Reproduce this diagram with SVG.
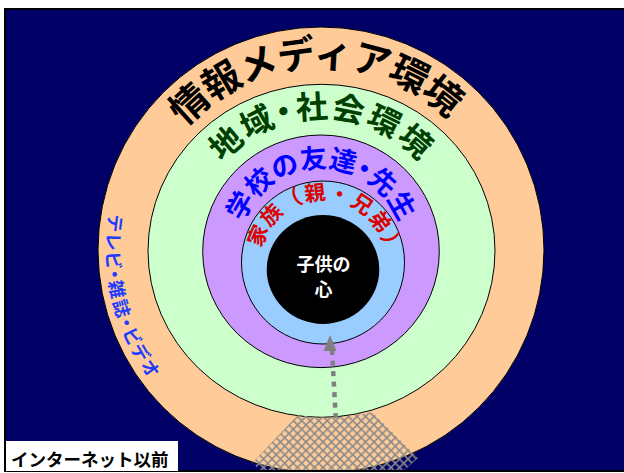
<svg xmlns="http://www.w3.org/2000/svg" xmlns:xlink="http://www.w3.org/1999/xlink" width="624" height="473" viewBox="0 0 624 473">
<style>
.t{font-family:"Noto Sans CJK JP","Noto Sans CJK SC",sans-serif;font-weight:700}
.p{font-feature-settings:"palt" 1}
.ring{stroke:#000;stroke-width:1}
</style>
<defs>
<clipPath id="frame"><rect x="6" y="10" width="620" height="460"/></clipPath>
<pattern id="hatch" patternUnits="userSpaceOnUse" width="8.5" height="8.5">
<path d="M-1,-1 L9.5,9.5 M9.5,-1 L-1,9.5" stroke="#8a8a8a" stroke-width="1.6" fill="none"/>
</pattern>
<path id="p1" d="M140.8,218.2 A183,183 0 0 1 501.2,218.2"/>
<path id="p2" d="M191,227.8 A132.5,132.5 0 0 1 452,227.8"/>
<path id="p3" d="M238.3,244 A83,83 0 0 1 403.7,244"/>
<path id="p4" d="M260.9,273.5 A63,63 0 1 1 385.1,273.5"/>
<path id="p5" d="M120.7,173.2 A214.5,214.5 0 0 0 180.3,411.9"/>
</defs>
<rect x="5" y="9" width="625" height="462" fill="#000066" stroke="#000" stroke-width="2"/>
<g clip-path="url(#frame)">
<g id="media"><circle class="ring" cx="321" cy="250" r="223" fill="#FFCC99"/></g>
<g id="community"><ellipse class="ring" cx="321.5" cy="250.8" rx="173.5" ry="166.5" fill="#CCFFCC"/></g>
<g id="school"><ellipse class="ring" cx="321" cy="251.3" rx="118.3" ry="116.3" fill="#CC99FF"/></g>
<g id="family"><circle class="ring" cx="323" cy="262.5" r="81.5" fill="#99CCFF"/></g>
<g id="heart"><ellipse cx="323" cy="269.5" rx="56.3" ry="54.5" fill="#000"/>
<text class="t" x="323.5" y="271" font-size="18" fill="#fff" text-anchor="middle">子供の</text>
<text class="t" x="323.5" y="296" font-size="18" fill="#fff" text-anchor="middle">心</text></g>
<g id="hatch-area"><path d="M298,415 Q335,421 372,412 L418,458 L402,472 L262,472 L252,463 Z" fill="url(#hatch)"/></g>
</g>
<g id="labels">
<text class="t" font-size="38" letter-spacing="-1" fill="#000" transform="rotate(-2 321 250)"><textPath xlink:href="#p1" href="#p1" startOffset="50%" text-anchor="middle">情報メディア環境</textPath></text>
<text class="t p" font-size="32" letter-spacing="2.3" fill="#004000"><textPath xlink:href="#p2" href="#p2" startOffset="50%" text-anchor="middle">地域・社会環境</textPath></text>
<text class="t p" font-size="27" fill="#0000FF"><textPath xlink:href="#p3" href="#p3" startOffset="50%" text-anchor="middle">学校の友達・先生</textPath></text>
<text class="t" font-size="21" letter-spacing="1.2" fill="#DD0000" transform="rotate(4 323 262.5)"><textPath xlink:href="#p4" href="#p4" startOffset="50%" text-anchor="middle">家族（親・兄弟）</textPath></text>
<text class="t p" font-size="18" letter-spacing="2.2" fill="#1E3CFF"><textPath xlink:href="#p5" href="#p5" startOffset="50%" text-anchor="middle">テレビ・雑誌・ビデオ</textPath></text>
</g>
<g id="connectors">
<line x1="335.8" y1="418" x2="332" y2="350" stroke="#808080" stroke-width="4.5" stroke-dasharray="5 5.5"/>
<polygon points="330,335 323.5,351 336.5,351" fill="#808080"/>
</g>
<g id="era-label">
<rect x="6" y="441" width="172" height="30" fill="#fff"/>
<text class="t" x="11" y="466" font-size="17.5" fill="#000">インターネット以前</text>
</g>
</svg>
